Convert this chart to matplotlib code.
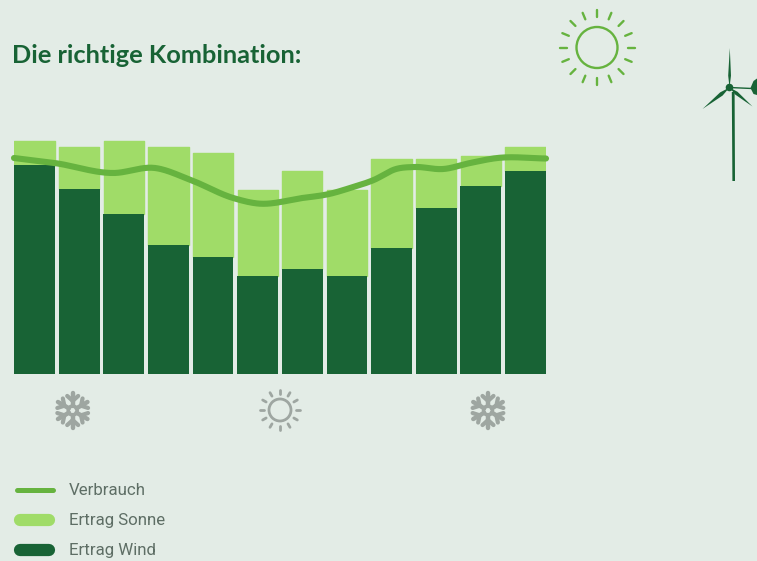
import numpy as np
import matplotlib
matplotlib.use("Agg")
import matplotlib.pyplot as plt
from matplotlib.patches import Circle, Polygon

# hoehen der balken, einheit = pixel ueber der grundlinie
monate = list(range(12))
ertrag_wind = [209, 185, 160, 129, 117, 98, 105, 98, 126, 166, 188, 203]
ertrag_sonne = [24, 42, 73, 98, 104, 86, 98, 86, 89, 49, 30, 24]
verbrauch_x = [-0.46, 0.45, 1.76, 2.7, 3.5, 4.45, 5.0, 6.0, 6.6, 7.07, 7.6, 8.1, 8.52, 9.16, 9.76, 10.37, 11.46]
verbrauch = [216, 211, 201, 206, 194, 176, 170.5, 176, 180, 186, 194, 205, 207, 205, 211, 216, 215.5]

titel = "Die richtige Kombination:"
legende = ["Verbrauch", "Ertrag Sonne", "Ertrag Wind"]

HG = "#E3ECE6"
DUNKEL = "#186335"
HELL = "#A0DC68"
LINIE = "#66B33F"
GRAU = "#9EA6A1"

W, H = 757, 561


def glatt(x, y, n=24):
    # hermite-kurve, nur damit die linie rund aussieht
    x = np.array(x, float)
    y = np.array(y, float)
    s = np.gradient(y, x)
    xx, yy = [], []
    for i in range(len(x) - 1):
        d = x[i + 1] - x[i]
        for t in np.linspace(0, 1, n, endpoint=False):
            h00 = 2 * t**3 - 3 * t**2 + 1
            h10 = t**3 - 2 * t**2 + t
            h01 = -2 * t**3 + 3 * t**2
            h11 = t**3 - t**2
            xx.append(x[i] + t * d)
            yy.append(h00 * y[i] + h10 * d * s[i] + h01 * y[i + 1] + h11 * d * s[i + 1])
    xx.append(x[-1])
    yy.append(y[-1])
    return xx, yy


fig = plt.figure(figsize=(W / 100, H / 100), dpi=100, facecolor=HG)

# diagramm
ax = fig.add_axes([14 / W, 1 - 374 / H, 532 / W, 260 / H])
ax.set_xlim(-0.46, 11.46)
ax.set_ylim(0, 260)
ax.axis("off")
ax.bar(monate, ertrag_wind, width=0.915, color=DUNKEL, zorder=2)
ax.bar(monate, ertrag_sonne, bottom=ertrag_wind, width=0.9, color=HELL,
       edgecolor=HELL, linewidth=1.0, joinstyle="round", zorder=1)
lx, ly = glatt(verbrauch_x, verbrauch)
ax.plot(lx, ly, color=LINIE, lw=4.4, solid_capstyle="round", zorder=3, clip_on=False)

# alles andere in pixelkoordinaten
bg = fig.add_axes([0, 0, 1, 1], facecolor="none")
bg.set_xlim(0, W)
bg.set_ylim(H, 0)
bg.axis("off")

bg.text(12, 55, titel, fontsize=18.3, fontweight="bold", family="Lato",
        color=DUNKEL, va="center", ha="left")


def sonne(cx, cy, r, r0, r1, n, col, lw):
    bg.add_patch(Circle((cx, cy), r, fill=False, ec=col, lw=lw))
    for a in np.arange(n) * 2 * np.pi / n:
        bg.plot([cx + r0 * np.sin(a), cx + r1 * np.sin(a)],
                [cy - r0 * np.cos(a), cy - r1 * np.cos(a)],
                color=col, lw=lw, solid_capstyle="round")


def flocke(cx, cy, r, col):
    bg.add_patch(Circle((cx, cy), r * 0.24, fill=False, ec=col, lw=2.6))
    for a in np.radians(np.arange(0, 360, 60)):
        dx, dy = np.sin(a), -np.cos(a)
        bg.plot([cx + dx * r * 0.24, cx + dx * r * 0.92], [cy + dy * r * 0.24, cy + dy * r * 0.92],
                color=col, lw=3.2, solid_capstyle="round")
        for s in (-1, 1):
            b = a + s * np.radians(48)
            px, py = cx + dx * r * 0.52, cy + dy * r * 0.52
            bg.plot([px, px + np.sin(b) * r * 0.4], [py, py - np.cos(b) * r * 0.4],
                    color=col, lw=3.0, solid_capstyle="round")


sonne(597, 47.5, 20.5, 30.5, 37.5, 16, LINIE, 1.7)
sonne(280, 410, 11, 16, 20, 12, GRAU, 2.0)
flocke(72.7, 410.5, 18.5, GRAU)
flocke(488, 410.5, 18.5, GRAU)


# windrad
def fluegel(hx, hy, sx, sy, b):
    dx, dy = sx - hx, sy - hy
    l = np.hypot(dx, dy)
    nx, ny = -dy / l, dx / l
    mx, my = hx + dx * 0.3, hy + dy * 0.3
    bg.add_patch(Polygon([(hx, hy), (mx + nx * b, my + ny * b), (sx, sy),
                          (mx - nx * b, my - ny * b)], closed=True, fc=DUNKEL, ec="none"))


hub = (729.5, 87.5)
bg.add_patch(Polygon([(731.8, 92), (734.6, 92), (735, 181), (732.4, 181)], closed=True,
                     fc=DUNKEL, ec="none"))
fluegel(hub[0], hub[1], 729.8, 48, 1.4)
fluegel(hub[0], hub[1], 702.5, 109, 2.0)
fluegel(hub[0], hub[1], 752.5, 106.5, 1.8)
bg.add_patch(Circle(hub, 3.8, fc=DUNKEL, ec="none"))
bg.plot([hub[0], 752], [hub[1], 88.5], color=DUNKEL, lw=1.0)
bg.add_patch(Polygon([(750.5, 88), (753.5, 81), (757, 78.5), (757, 95), (753.5, 94)],
                     closed=True, fc=DUNKEL, ec="none"))

# legende
leg_y = [490, 520, 550]
leg_col = [LINIE, HELL, DUNKEL]
leg_lw = [3.6, 8.8, 8.8]
leg_von = [16.5, 20, 20]
leg_bis = [52.5, 49, 49]
for y, c, lw, t, x0, x1 in zip(leg_y, leg_col, leg_lw, legende, leg_von, leg_bis):
    bg.plot([x0, x1], [y, y], color=c, lw=lw, solid_capstyle="round")
    bg.text(69, y + 0.3, t, fontsize=12.2, family="Roboto", color="#5E6E65",
            va="center", ha="left")

fig.savefig("out.png", dpi=100, facecolor=HG)
